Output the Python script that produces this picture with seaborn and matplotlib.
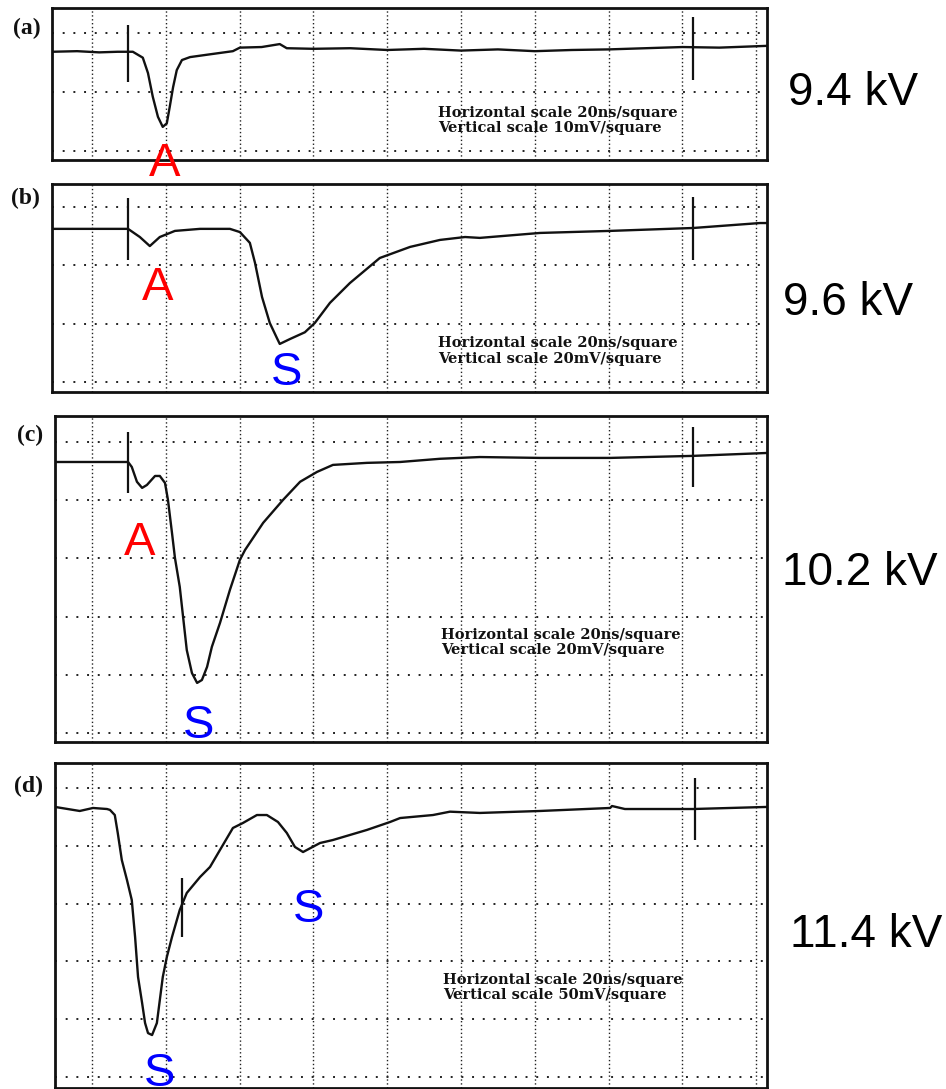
import numpy as np
import pandas as pd
import matplotlib
matplotlib.use("Agg")
import matplotlib.pyplot as plt
import seaborn as sns

# ---------------- data ----------------
# time in ns, signal in mV
grid_time = [20, 40, 60, 80, 100, 120, 140, 160, 180, 200]

# (a) 9.4 kV, 10 mV/square
t_a = [9.2, 16.0, 22.0, 27.0, 31.1, 33.8, 35.2, 36.5, 37.9, 39.2, 40.3, 41.1, 42.0, 43.0,
       44.4, 46.6, 51.2, 58.2, 60.1, 66.0, 70.9, 72.8, 80.0, 90.0, 100.0, 110.0, 120.0,
       130.0, 140.0, 150.0, 160.0, 170.0, 180.0, 190.0, 202.9]
v_a = [-3.2, -3.1, -3.3, -3.2, -3.2, -4.2, -6.8, -10.8, -14.2, -15.9, -15.3, -12.5, -9.2,
       -6.3, -4.6, -4.1, -3.7, -3.1, -2.5, -2.4, -1.9, -2.6, -2.7, -2.6, -2.9, -2.7, -3.0,
       -2.8, -3.1, -2.9, -2.8, -2.6, -2.4, -2.5, -2.2]
grid_v_a = [0, -10, -20]
trig_t_a = [29.8, 182.9]
trig_lo_a = [-8.3, -8.0]
trig_hi_a = [1.4, 2.7]

# (b) 9.6 kV, 20 mV/square
t_b = [9.2, 20.0, 29.8, 33.0, 35.7, 38.4, 42.5, 49.3, 57.4, 60.1, 62.8, 64.2, 66.1, 68.2,
       70.1, 70.9, 73.7, 77.7, 80.4, 84.5, 89.9, 98.0, 106.2, 114.3, 121.1, 125.1, 141.4,
       160.4, 182.9, 201.0, 202.9]
v_b = [-7.5, -7.5, -7.5, -10.3, -13.4, -10.3, -8.2, -7.5, -7.5, -8.6, -12.3, -19.2, -30.9,
       -39.8, -44.9, -47.0, -45.3, -43.0, -39.8, -32.9, -26.1, -17.5, -13.7, -11.3, -10.3,
       -10.6, -8.9, -8.2, -7.2, -5.5, -5.5]
grid_v_b = [0, -20, -40, -60]
trig_t_b = [29.8, 182.9]
trig_lo_b = [-18.2, -18.2]
trig_hi_b = [3.1, 3.4]

# (c) 10.2 kV, 20 mV/square
t_c = [10.0, 20.0, 29.8, 30.8, 32.2, 33.6, 34.9, 37.1, 38.4, 39.8, 40.6, 41.7, 42.5, 43.8,
       44.7, 45.7, 47.1, 48.5, 49.8, 51.2, 52.5, 54.7, 57.4, 60.1, 61.5, 66.4, 71.8, 76.4,
       81.0, 85.3, 94.5, 103.5, 114.3, 125.1, 141.4, 160.4, 182.9, 202.9]
v_c = [-6.9, -6.9, -6.9, -8.6, -13.7, -15.8, -14.8, -11.7, -11.7, -14.1, -19.9, -31.3, -39.9,
       -49.8, -60.1, -71.5, -79.4, -82.8, -81.8, -77.3, -70.4, -62.2, -50.8, -40.5, -37.1,
       -27.8, -19.9, -13.7, -10.3, -7.9, -7.2, -6.9, -5.8, -5.2, -5.5, -5.5, -4.8, -3.8]
grid_v_c = [0, -20, -40, -60, -80, -100]
trig_t_c = [29.8, 182.9]
trig_lo_c = [-17.5, -15.5]
trig_hi_c = [3.4, 5.2]

# (d) 11.4 kV, 50 mV/square
t_d = [10.0, 16.7, 20.3, 24.1, 24.9, 26.2, 27.0, 28.1, 29.5, 30.8, 31.7, 32.5, 33.6, 34.4,
       35.2, 36.3, 37.6, 38.4, 39.2, 40.3, 41.7, 43.8, 45.7, 49.3, 52.0, 54.7, 58.2, 60.9,
       64.7, 67.4, 70.4, 72.8, 75.0, 77.2, 81.8, 85.3, 94.5, 100.8, 103.5, 112.4, 117.0,
       125.1, 141.4, 160.4, 160.9, 164.4, 182.9, 202.9]
v_d = [-16.4, -19.9, -17.3, -18.2, -19.0, -23.4, -38.9, -62.3, -79.6, -96.9, -128.9, -163.5,
       -186.0, -203.3, -212.0, -213.7, -203.3, -183.4, -163.5, -146.2, -128.9, -105.5, -90.8,
       -77.0, -68.3, -53.6, -34.6, -30.3, -23.4, -23.4, -29.4, -38.9, -51.0, -55.4, -47.6,
       -45.0, -36.3, -29.4, -26.0, -23.4, -20.5, -21.6, -19.9, -17.3, -15.6, -18.2, -18.2, -16.4]
grid_v_d = [0, -50, -100, -150, -200, -250]
trig_t_d = [44.4, 183.4]
trig_lo_d = [-128.9, -45.0]
trig_hi_d = [-77.9, 8.7]

panel_tags = ["(a)", "(b)", "(c)", "(d)"]
voltages = ["9.4 kV", "9.6 kV", "10.2 kV", "11.4 kV"]
h_scale = "Horizontal scale 20ns/square"
v_scales = ["Vertical scale 10mV/square", "Vertical scale 20mV/square",
            "Vertical scale 20mV/square", "Vertical scale 50mV/square"]

# peak labels: (panel index, text, time, level, colour)
peak_labels = [
    (0, "A", 39.8, -24.2, "#ff0000"),
    (1, "A", 37.9, -31.9, "#ff0000"),
    (1, "S", 72.8, -61.1, "#0000ff"),
    (2, "A", 33.0, -38.8, "#ff0000"),
    (2, "S", 49.0, -101.7, "#0000ff"),
    (3, "S", 78.8, -115.9, "#0000ff"),
    (3, "S", 38.2, -258.0, "#0000ff"),
]

# ---------------- style / layout ----------------
sns.set_theme(style="white")
plt.rcParams["font.family"] = ["Liberation Sans", "DejaVu Sans"]

W, H = 946, 1089
fig = plt.figure(figsize=(W / 100, H / 100), dpi=100)

# axes boxes in pixels: left, top, right, bottom ; plus x/y limits
boxes = [
    (52, 8, 767, 160, (9.2, 202.9), (-21.5, 4.2)),
    (52, 184, 767, 392, (9.2, 202.9), (-63.5, 7.9)),
    (55, 416, 767, 742, (10.0, 202.9), (-103.1, 8.9)),
    (55, 763, 767, 1088, (10.0, 202.9), (-259.5, 21.6)),
]
series = [(t_a, v_a, grid_v_a, trig_t_a, trig_lo_a, trig_hi_a),
          (t_b, v_b, grid_v_b, trig_t_b, trig_lo_b, trig_hi_b),
          (t_c, v_c, grid_v_c, trig_t_c, trig_lo_c, trig_hi_c),
          (t_d, v_d, grid_v_d, trig_t_d, trig_lo_d, trig_hi_d)]

# text positions (pixels)
tag_pos = [(27, 28), (25, 198), (30, 435), (28, 786)]
kv_pos = [(788, 105), (783, 315), (782, 585), (790, 947)]
scale_pos = [(438, 117, 132), (438, 347, 363), (441, 639, 654), (443, 984, 999)]

axes = []
for i, (l, t, r, b, xl, yl) in enumerate(boxes):
    ax = fig.add_axes([l / W, 1 - b / H, (r - l) / W, (b - t) / H])
    tt, vv, gy, tr_t, tr_lo, tr_hi = series[i]
    df = pd.DataFrame({"time": tt, "signal": vv})
    sns.lineplot(data=df, x="time", y="signal", ax=ax, color="#111111",
                 linewidth=1.7, estimator=None, sort=False)
    ax.vlines(tr_t, tr_lo, tr_hi, color="#111111", linewidth=1.6)
    ax.set_xlim(*xl)
    ax.set_ylim(*yl)
    ax.set_xticks(grid_time)
    ax.set_yticks(gy)
    ax.tick_params(length=0, labelbottom=False, labelleft=False)
    ax.set_xlabel("")
    ax.set_ylabel("")
    ax.set_axisbelow(True)
    ax.xaxis.grid(True, color="#222222", linewidth=1.0, linestyle=(0, (1, 1.8)))
    ax.yaxis.grid(True, color="#222222", linewidth=1.4, linestyle=(0, (1, 4.5)))
    for s in ax.spines.values():
        s.set_color("#111111")
        s.set_linewidth(2.0)
        s.set_visible(True)
    axes.append(ax)

    # scale text
    x0, y1, y2 = scale_pos[i]
    fig.text(x0 / W, 1 - y1 / H, h_scale, family="DejaVu Serif", weight="bold",
             fontsize=10.5, va="baseline", ha="left", color="#111111")
    fig.text(x0 / W, 1 - y2 / H, v_scales[i], family="DejaVu Serif", weight="bold",
             fontsize=10.5, va="baseline", ha="left", color="#111111")

    # panel tag
    px, py = tag_pos[i]
    fig.text(px / W, 1 - py / H, panel_tags[i], family="Liberation Serif", weight="bold",
             fontsize=17, va="center", ha="center", color="#111111")

    # voltage label
    kx, ky = kv_pos[i]
    fig.text(kx / W, 1 - ky / H, voltages[i], family=["Liberation Sans", "DejaVu Sans"],
             fontsize=33, va="baseline", ha="left", color="black")

for (pi, txt, tx, ty, col) in peak_labels:
    axes[pi].text(tx, ty, txt, color=col, fontsize=34, ha="center", va="baseline",
                  family=["Liberation Sans", "DejaVu Sans"], clip_on=False, zorder=5)

fig.savefig("out.png", dpi=100, facecolor="white")
